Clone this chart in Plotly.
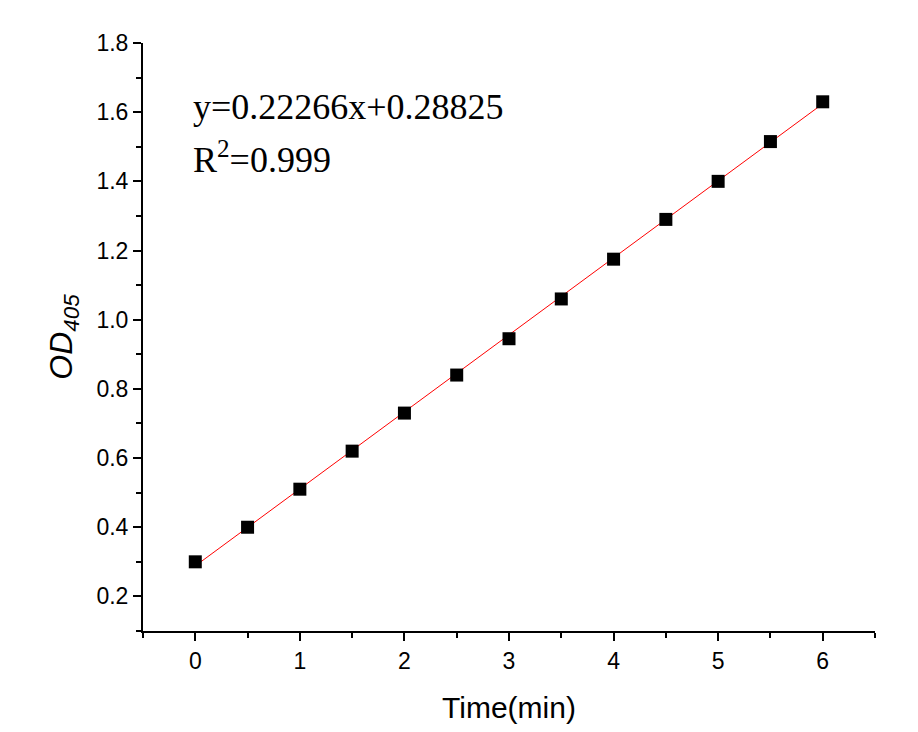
import plotly.graph_objects as go

time_min = [0, 0.5, 1, 1.5, 2, 2.5, 3, 3.5, 4, 4.5, 5, 5.5, 6]
od405 = [0.30, 0.40, 0.51, 0.62, 0.73, 0.84, 0.945, 1.06, 1.175, 1.29, 1.40, 1.515, 1.63]
slope = 0.22266
intercept = 0.28825
fit_x = [0, 6]
fit_y = [intercept + slope * x for x in fit_x]

fig = go.Figure()
fig.add_trace(go.Scatter(x=fit_x, y=fit_y, mode="lines",
                         line=dict(color="red", width=1), showlegend=False))
fig.add_trace(go.Scatter(x=time_min, y=od405, mode="markers",
                         marker=dict(symbol="square", size=13, color="black"),
                         showlegend=False))

fig.add_annotation(x=-0.04, y=1.615, xref="x", yref="y", xanchor="left", yanchor="middle",
                   text="y=0.22266x+0.28825", showarrow=False,
                   font=dict(family="Liberation Serif", size=36, color="black"))
fig.add_annotation(x=-0.04, y=1.47, xref="x", yref="y", xanchor="left", yanchor="middle",
                   text="R<sup>2</sup>=0.999", showarrow=False,
                   font=dict(family="Liberation Serif", size=36, color="black"))

axis_common = dict(showline=True, linecolor="black", linewidth=2, showgrid=False,
                   zeroline=False, ticks="outside", ticklen=8, tickwidth=2, tickcolor="black",
                   tickfont=dict(family="Liberation Sans", size=23, color="black"))

fig.update_xaxes(range=[-0.5, 6.5], tick0=0, dtick=1,
                 title=dict(text="Time(min)", font=dict(family="Liberation Sans", size=30, color="black"), standoff=24),
                 minor=dict(ticks="outside", ticklen=5, tickwidth=2, tickcolor="black", dtick=0.5, tick0=0),
                 **axis_common)
fig.update_yaxes(range=[0.1, 1.8], tick0=0.2, dtick=0.2, tickformat=".1f",
                 title=dict(text="<i>OD<sub>405</sub></i>", font=dict(family="Liberation Sans", size=32, color="black"), standoff=14),
                 minor=dict(ticks="outside", ticklen=5, tickwidth=2, tickcolor="black", dtick=0.1, tick0=0.1),
                 **axis_common)

fig.update_layout(width=918, height=732, plot_bgcolor="white", paper_bgcolor="white",
                  margin=dict(l=135, r=51, t=35, b=109))

fig.write_html("out.html")
